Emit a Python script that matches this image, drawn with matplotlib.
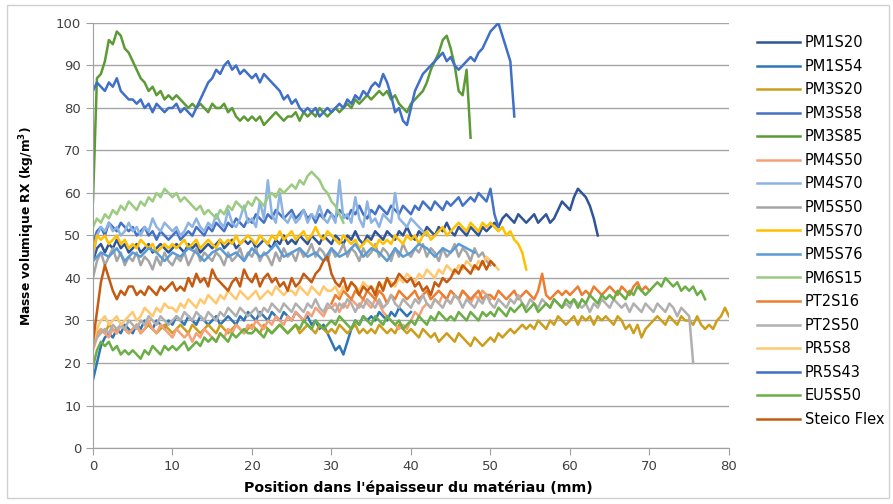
import numpy as np
import matplotlib
matplotlib.use('Agg')
import matplotlib.pyplot as plt
from matplotlib.patches import Rectangle

# each series: start position (mm), sampling step (mm), density values (kg/m3)
labels = ['PM1S20', 'PM1S54', 'PM3S20', 'PM3S58', 'PM3S85', 'PM4S50', 'PM4S70', 'PM5S50',
          'PM5S70', 'PM5S76', 'PM6S15', 'PT2S16', 'PT2S50', 'PR5S8', 'PR5S43', 'EU5S50',
          'Steico Flex']

pm1s20 = [44, 47, 48, 46, 48, 47, 49, 47, 48, 46,
          47, 48, 46, 47, 48, 46, 47, 48, 47, 46,
          47, 48, 47, 46, 48, 47, 48, 46, 47, 48,
          47, 48, 49, 47, 48, 49, 47, 48, 49, 48,
          49, 47, 48, 49, 48, 47, 49, 48, 50, 48,
          49, 48, 50, 49, 48, 50, 49, 48, 50, 49,
          48, 50, 49, 48, 50, 49, 51, 49, 48, 50,
          49, 51, 50, 49, 51, 50, 49, 51, 50, 52,
          50, 49, 51, 50, 52, 51, 50, 52, 51, 53,
          51, 50, 52, 51, 50, 52, 51, 50, 52, 51,
          52, 53, 52, 54, 55, 54, 53, 55, 54, 53,
          54, 55, 53, 54, 55, 53, 54, 56, 58, 57,
          56, 59, 61, 60, 59, 57, 54, 50]
pm1s54 = [16, 20, 24, 26, 27, 26, 28, 27, 29, 28,
          27, 29, 28, 30, 29, 28, 30, 29, 28, 30,
          29, 31, 30, 29, 31, 30, 29, 31, 30, 29,
          30, 31, 29, 30, 31, 30, 29, 31, 30, 32,
          31, 30, 32, 31, 30, 32, 31, 30, 32, 31,
          30, 32, 31, 30, 31, 29, 30, 28, 29, 27,
          25, 23, 24, 22, 25, 28, 30, 29, 31, 30,
          31, 30, 32, 31, 30, 32, 31, 33, 32, 31,
          32]
pm3s20 = [25, 27, 28, 27, 29, 28, 27, 29, 28, 27,
          28, 29, 27, 28, 29, 28, 27, 28, 29, 28,
          27, 28, 29, 28, 27, 29, 28, 27, 28, 29,
          28, 27, 29, 28, 27, 28, 29, 28, 27, 28,
          29, 28, 27, 29, 28, 27, 28, 29, 28, 27,
          28, 29, 27, 28, 29, 28, 27, 29, 28, 27,
          28, 27, 29, 28, 27, 28, 29, 27, 28, 27,
          28, 27, 29, 28, 27, 28, 27, 29, 28, 27,
          28, 27, 26, 28, 27, 26, 27, 25, 26, 27,
          26, 25, 27, 26, 25, 24, 26, 25, 24, 25,
          26, 25, 27, 26, 27, 28, 27, 28, 29, 28,
          29, 28, 30, 29, 28, 30, 29, 31, 30, 29,
          30, 31, 29, 31, 30, 31, 29, 31, 30, 31,
          30, 29, 31, 30, 28, 29, 27, 29, 26, 28,
          29, 30, 31, 30, 29, 31, 30, 29, 31, 30,
          30, 29, 31, 29, 28, 29, 28, 30, 31, 33,
          31]
pm3s58 = [48, 51, 52, 50, 53, 52, 51, 53, 52, 51,
          52, 50, 51, 52, 50, 51, 49, 51, 50, 49,
          50, 51, 49, 50, 51, 50, 52, 51, 50, 52,
          51, 53, 52, 51, 53, 52, 54, 53, 52, 54,
          53, 55, 54, 53, 55, 54, 56, 55, 54, 55,
          56, 54, 55, 56, 54, 55, 53, 55, 54, 56,
          55, 54, 56, 55, 54, 56, 55, 57, 55, 54,
          56, 55, 57, 56, 55, 57, 56, 55, 57, 56,
          55, 57, 56, 58, 57, 56, 58, 57, 56, 58,
          57, 58, 59, 57, 58, 59, 58, 60, 59, 58,
          61, 55, 52]
pm3s85 = [58, 87, 88, 91, 96, 95, 98, 97, 94, 93,
          91, 89, 87, 86, 84, 85, 83, 84, 82, 83,
          82, 83, 82, 81, 80, 81, 80, 81, 80, 79,
          81, 80, 80, 81, 79, 80, 78, 77, 78, 77,
          78, 77, 78, 76, 77, 78, 79, 78, 77, 78,
          78, 79, 77, 79, 78, 79, 78, 80, 79, 78,
          79, 80, 79, 80, 81, 80, 82, 81, 82, 83,
          82, 83, 84, 83, 84, 82, 83, 81, 80, 79,
          81, 82, 83, 84, 86, 89, 91, 93, 96, 97,
          94, 90, 84, 83, 89, 73]
pm4s50 = [23, 26, 28, 27, 26, 28, 27, 29, 28, 27,
          28, 29, 27, 28, 30, 28, 27, 29, 28, 27,
          26, 28, 27, 26, 27, 25, 27, 26, 28, 27,
          26, 25, 27, 26, 28, 27, 29, 28, 27, 29,
          28, 30, 29, 28, 30, 29, 31, 30, 29, 31,
          30, 32, 31, 30, 32, 31, 33, 32, 31, 33,
          33, 34, 32, 34, 33, 35, 34, 33, 35, 34,
          33, 35, 34, 32, 31, 30, 29, 28, 29, 28,
          30, 32, 31, 33, 34, 33, 35, 34, 36, 35,
          34, 36, 35, 37, 36, 34, 36, 35, 37, 36, 35]
pm4s70 = [45, 50, 52, 51, 53, 51, 52, 50, 51, 53,
          51, 52, 50, 52, 51, 54, 52, 51, 53, 52,
          51, 52, 50, 51, 53, 52, 54, 52, 51, 53,
          52, 55, 53, 52, 56, 53, 52, 54, 57, 53,
          54, 52, 58, 54, 63, 55, 53, 60, 54, 53,
          55, 53, 54, 56, 53, 55, 54, 57, 54, 53,
          55, 53, 63, 54, 55, 53, 59, 54, 52, 58,
          53, 54, 52, 55, 54, 53, 60, 54, 53, 52,
          54, 53, 52, 51, 50]
pm5s50 = [40, 44, 46, 43, 45, 47, 44, 46, 43, 45,
          44, 46, 43, 45, 44, 42, 45, 43, 46, 44,
          43, 45, 44, 46, 43, 45, 47, 44, 46, 45,
          44, 46, 45, 43, 46, 44, 45, 47, 44, 46,
          45, 47, 44, 46, 45, 43, 46, 44, 47, 45,
          46, 44, 47, 45, 46, 48, 45, 47, 46, 44,
          47, 45, 46, 48, 45, 47, 46, 44, 47, 45,
          46, 48, 45, 47, 46, 44, 47, 45, 48, 46,
          45, 47, 46, 48, 45, 47, 46, 44, 47, 45,
          46, 48, 45, 47, 46, 44, 47, 45, 46, 44, 43]
pm5s70 = [46, 50, 49, 50, 48, 49, 50, 48, 49, 47,
          48, 47, 49, 48, 47, 48, 46, 47, 48, 47,
          48, 47, 48, 49, 47, 48, 49, 47, 48, 49,
          48, 47, 49, 48, 49, 48, 50, 48, 49, 50,
          49, 48, 50, 49, 48, 50, 49, 51, 49, 50,
          51, 49, 50, 51, 49, 50, 52, 50, 49, 51,
          50, 49, 48, 50, 49, 48, 49, 47, 48, 49,
          48, 47, 49, 48, 49, 48, 50, 49, 48, 50,
          49, 50, 48, 50, 51, 49, 50, 51, 52, 50,
          51, 52, 53, 52, 51, 53, 52, 51, 53, 52,
          53, 52, 51, 52, 50, 51, 49, 48, 46, 42]
pm5s76 = [44, 46, 45, 47, 44, 46, 45, 47, 46, 44,
          46, 45, 47, 46, 44, 46, 47, 45, 46, 44,
          47, 45, 46, 48, 45, 46, 47, 45, 46, 44,
          47, 45, 46, 48, 45, 47, 46, 44, 47, 45,
          46, 48, 47, 45, 47, 46, 48, 47, 46]
pm6s15 = [52, 54, 53, 55, 54, 56, 55, 57, 56, 58,
          57, 56, 58, 57, 59, 58, 60, 59, 61, 60,
          59, 60, 58, 59, 58, 57, 56, 57, 55, 56,
          55, 54, 56, 55, 57, 56, 58, 57, 56, 58,
          57, 59, 58, 57, 59, 60, 59, 61, 60, 61,
          62, 61, 63, 62, 64, 65, 64, 63, 61, 60,
          58, 57, 55, 53]
pt2s16 = [34, 36, 35, 37, 36, 35, 37, 36, 35, 37,
          36, 35, 37, 36, 34, 36, 35, 37, 36, 35,
          36, 37, 35, 36, 37, 35, 36, 37, 36, 35,
          37, 36, 35, 37, 36, 35, 36, 37, 35, 36,
          36, 35, 37, 36, 35, 36, 37, 35, 36, 37,
          36, 35, 37, 41, 36, 35, 36, 37, 36, 37,
          36, 37, 38, 36, 37, 36, 38, 37, 36, 37,
          38, 37, 36, 38, 37, 36, 38, 39, 37, 38, 37]
pt2s50 = [24, 26, 27, 28, 27, 29, 28, 29, 28, 30,
          29, 28, 30, 29, 31, 30, 29, 31, 30, 29,
          30, 31, 30, 32, 31, 30, 32, 31, 30, 32,
          31, 30, 32, 31, 33, 32, 31, 33, 32, 31,
          32, 33, 31, 33, 32, 34, 33, 32, 34, 33,
          32, 34, 33, 32, 34, 33, 35, 33, 32, 34,
          33, 32, 34, 33, 35, 34, 32, 34, 33, 35,
          34, 33, 35, 33, 34, 36, 34, 33, 35, 34,
          33, 35, 34, 36, 34, 33, 35, 34, 33, 35,
          34, 36, 35, 33, 35, 34, 33, 35, 34, 36,
          34, 33, 35, 34, 33, 35, 34, 36, 34, 33,
          35, 34, 33, 35, 34, 33, 35, 34, 33, 34,
          33, 35, 34, 33, 34, 32, 34, 33, 35, 34,
          33, 35, 34, 33, 34, 32, 34, 33, 32, 34,
          33, 32, 34, 33, 32, 34, 33, 31, 33, 32,
          31, 20]
pr5s8 = [25, 28, 30, 31, 29, 30, 31, 29, 30, 31,
         32, 30, 31, 33, 32, 31, 33, 32, 34, 33,
         33, 32, 34, 33, 35, 34, 33, 35, 34, 36,
         35, 34, 36, 35, 37, 36, 35, 37, 36, 35,
         36, 37, 35, 36, 37, 36, 38, 37, 36, 37,
         37, 36, 38, 37, 36, 38, 37, 36, 38, 37,
         37, 38, 36, 38, 37, 39, 38, 37, 39, 38,
         38, 37, 39, 38, 40, 39, 38, 40, 39, 41,
         40, 39, 41, 40, 42, 41, 40, 42, 41, 43,
         42, 41, 43, 42, 44, 43, 42, 44, 43, 45, 44, 43, 42]
pr5s43 = [84, 86, 85, 84, 86, 85, 87, 84, 83, 82,
          82, 81, 82, 80, 81, 79, 81, 80, 79, 80,
          80, 81, 79, 80, 79, 78, 80, 82, 84, 86,
          87, 89, 88, 90, 91, 89, 90, 88, 89, 88,
          87, 88, 86, 88, 87, 86, 85, 84, 82, 83,
          81, 82, 80, 79, 80, 79, 80, 78, 79, 80,
          79, 80, 81, 80, 82, 81, 83, 82, 84, 83,
          85, 86, 85, 88, 86, 83, 79, 80, 77, 76,
          80, 84, 86, 88, 89, 90, 91, 92, 93, 91,
          92, 90, 89, 90, 91, 92, 91, 93, 94, 96,
          98, 99, 100, 97, 94, 91, 78]
eu5s50 = [19, 23, 25, 24, 25, 23, 24, 22, 23, 22,
          23, 22, 21, 23, 22, 24, 23, 22, 24, 23,
          24, 23, 24, 25, 23, 24, 25, 24, 26, 25,
          26, 25, 27, 26, 25, 27, 26, 27, 28, 27,
          27, 28, 27, 26, 28, 27, 28, 29, 28, 27,
          28, 29, 28, 30, 29, 28, 30, 29, 28, 29,
          30, 29, 31, 30, 29, 28, 30, 29, 31, 30,
          29, 31, 30, 29, 31, 30, 29, 30, 28, 29,
          30, 29, 31, 30, 29, 31, 30, 32, 31, 30,
          31, 30, 32, 31, 30, 32, 31, 30, 32, 31,
          32, 31, 33, 32, 31, 33, 32, 33, 34, 32,
          33, 34, 32, 33, 34, 33, 35, 34, 33, 35,
          34, 35, 33, 35, 34, 36, 35, 34, 36, 35,
          36, 35, 37, 36, 35, 37, 36, 38, 37, 36,
          37, 38, 39, 38, 40, 39, 38, 39, 37, 38,
          37, 38, 36, 37, 35]
steico = [25, 32, 39, 43, 40, 37, 35, 37, 36, 38,
          38, 36, 37, 36, 38, 37, 36, 38, 37, 38,
          39, 37, 38, 37, 40, 38, 41, 39, 40, 38,
          42, 40, 39, 38, 37, 39, 40, 38, 42, 40,
          39, 41, 38, 40, 41, 39, 40, 38, 39, 37,
          40, 38, 39, 41, 40, 39, 41, 42, 44, 45,
          41, 39, 38, 40, 37, 39, 38, 36, 38, 37,
          38, 36, 39, 37, 40, 38, 39, 41, 40, 39,
          40, 38, 39, 37, 38, 36, 39, 38, 40, 39,
          40, 42, 41, 43, 42, 41, 43, 42, 44, 42, 44, 43]

series = [pm1s20, pm1s54, pm3s20, pm3s58, pm3s85, pm4s50, pm4s70, pm5s50,
          pm5s70, pm5s76, pm6s15, pt2s16, pt2s50, pr5s8, pr5s43, eu5s50, steico]
starts = [0, 0, 0, 0, 0, 0, 0, 0, 0, 0, 0, 30, 0, 0, 0, 0, 0]
steps = [0.5, 0.5, 0.5, 0.5, 0.5, 0.5, 0.5, 0.5, 0.5, 1, 0.5, 0.5, 0.5, 0.5, 0.5, 0.5, 0.5]

colors = ['#2F5597', '#2E75B6', '#CC9E1C', '#4472C4', '#5B9A35', '#F6A07A', '#8DB3E2', '#A5A5A5',
          '#FFC000', '#5B9BD5', '#9BCB80', '#ED7D31', '#B0B0B0', '#FFC870', '#3F6FC6', '#6AAE45',
          '#C55A11']

fig = plt.figure(figsize=(8.93, 5.04), dpi=100)
fig.patches.append(Rectangle((0.008, 0.012), 0.988, 0.978, transform=fig.transFigure,
                             fill=False, edgecolor='#D0D0D0', linewidth=1))
ax = fig.add_axes([0.1041, 0.1111, 0.7122, 0.8433])

for vals, x0, st, c, lab in zip(series, starts, steps, colors, labels):
    x = x0 + st * np.arange(len(vals))
    ax.plot(x, vals, color=c, linewidth=1.8, label=lab)

ax.set_xlim(0, 80)
ax.set_ylim(0, 100)
ax.set_xticks(range(0, 81, 10))
ax.set_yticks(range(0, 101, 10))
ax.yaxis.grid(True, color='#A6A6A6', linewidth=1)
ax.set_axisbelow(True)
for s in ['top', 'right']:
    ax.spines[s].set_visible(False)
for s in ['left', 'bottom']:
    ax.spines[s].set_color('#A0A0A0')
ax.tick_params(colors='#A0A0A0', length=5, labelcolor='#404040', labelsize=9.5)

ax.set_xlabel("Position dans l'épaisseur du matériau (mm)", fontsize=10.2, fontweight='bold')
ax.xaxis.set_label_coords(0.511, -0.076)
ax.set_ylabel("Masse volumique RX (kg/m$^\\mathbf{3}$)", fontsize=8.8, fontweight='bold')
ax.yaxis.set_label_coords(-0.088, 0.522)

handles, labs = ax.get_legend_handles_labels()
fig.legend(handles, labs, loc='upper left', bbox_to_anchor=(0.848, 0.93), frameon=False,
           fontsize=10.5, handlelength=2.9, handletextpad=0.35, labelspacing=0.585,
           borderpad=0, borderaxespad=0)

fig.savefig('out.png', dpi=100)
